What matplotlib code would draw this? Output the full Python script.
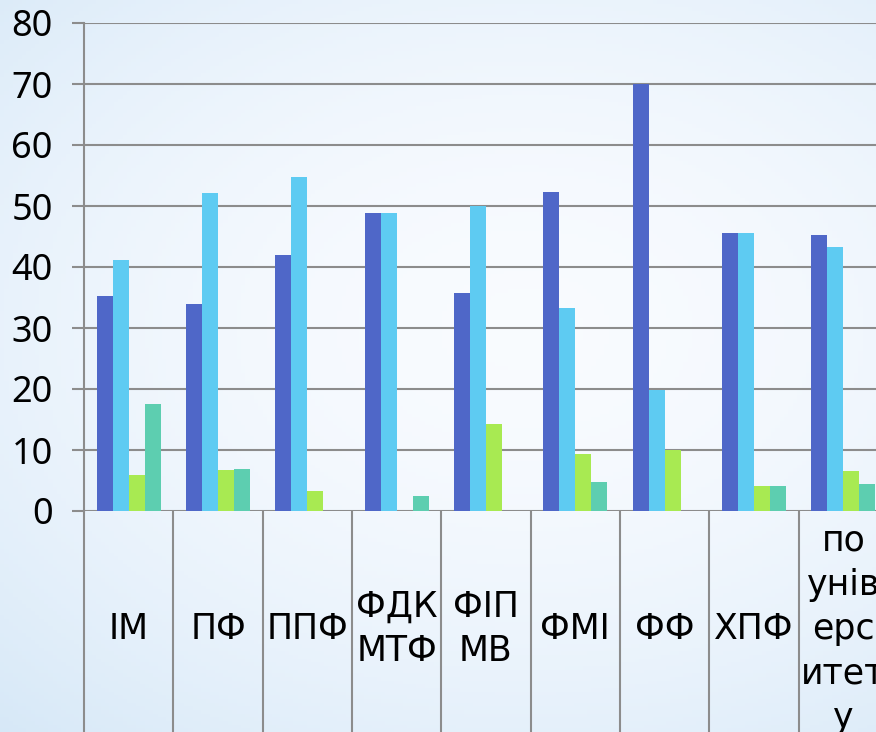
import numpy as np
import matplotlib
matplotlib.use("Agg")
import matplotlib.pyplot as plt

# categories and series values
categories = ["ІМ", "ПФ", "ППФ", "ФДК\nМТФ", "ФІП\nМВ", "ФМІ", "ФФ", "ХПФ",
              "по\nунів\nерс\nитет\nу"]
series_1 = [35.3, 34.0, 41.9, 48.8, 35.7, 52.3, 70.0, 45.6, 45.3]
series_2 = [41.1, 52.2, 54.8, 48.8, 50.0, 33.3, 19.8, 45.6, 43.2]
series_3 = [5.9, 6.8, 3.2, 0.0, 14.3, 9.4, 10.0, 4.1, 6.6]
series_4 = [17.6, 6.9, 0.0, 2.4, 0.0, 4.7, 0.0, 4.1, 4.4]
y_ticks = [0, 10, 20, 30, 40, 50, 60, 70, 80]

colors = ["#4f67c8", "#5ecbf2", "#a8ea52", "#5dceb0"]
grid_col = "#8c8c8c"

W, H = 876, 732
fig = plt.figure(figsize=(W / 100, H / 100), dpi=100)

# soft blue background
bg = fig.add_axes([0, 0, 1, 1], zorder=-10)
yy, xx = np.mgrid[0:1:200j, 0:1:200j]
d = np.sqrt(((xx - 0.6) / 0.9) ** 2 + ((yy - 0.45) / 0.75) ** 2)
d = np.clip(d, 0, 1)
white = np.array([0.975, 0.985, 1.0])
blue = np.array([0.84, 0.91, 0.97])
img = white + (blue - white) * d[..., None] ** 1.8
bg.imshow(img, extent=[0, 1, 0, 1], aspect="auto", origin="upper")
bg.axis("off")

ax = fig.add_axes([84 / W, (H - 511) / H, 804 / W, 488 / H])
ax.patch.set_alpha(0)

x = np.arange(len(categories))
bw = 0.18
for i, vals in enumerate([series_1, series_2, series_3, series_4]):
    ax.bar(x + (i - 1.5) * bw, vals, width=bw, color=colors[i], zorder=3,
           linewidth=0)

ax.set_xlim(-0.5, len(categories) - 0.5)
ax.set_ylim(0, 80)
ax.set_yticks(y_ticks)
ax.set_yticklabels([str(v) for v in y_ticks], fontsize=26, family="Noto Sans")
ax.yaxis.grid(True, color=grid_col, linewidth=1.5, zorder=1)
ax.tick_params(axis="y", length=8.6, width=1.5, color=grid_col, pad=14)

for s in ["top", "right", "bottom"]:
    ax.spines[s].set_visible(False)
ax.spines["left"].set_color(grid_col)
ax.spines["left"].set_linewidth(1.5)

# category separators as long minor ticks
ax.set_xticks(np.arange(-0.5, len(categories)), minor=True)
ax.set_xticks([])
ax.tick_params(axis="x", which="minor", length=170, width=1.5,
               color=grid_col, direction="out")

for xi, lab in zip(x, categories):
    ax.text(xi, -118 / 488, lab, transform=ax.get_xaxis_transform(),
            ha="center", va="center", fontsize=25,
            family=["Liberation Sans Narrow", "DejaVu Sans"],
            linespacing=1.38, clip_on=False)

fig.savefig("out.png", dpi=100)
